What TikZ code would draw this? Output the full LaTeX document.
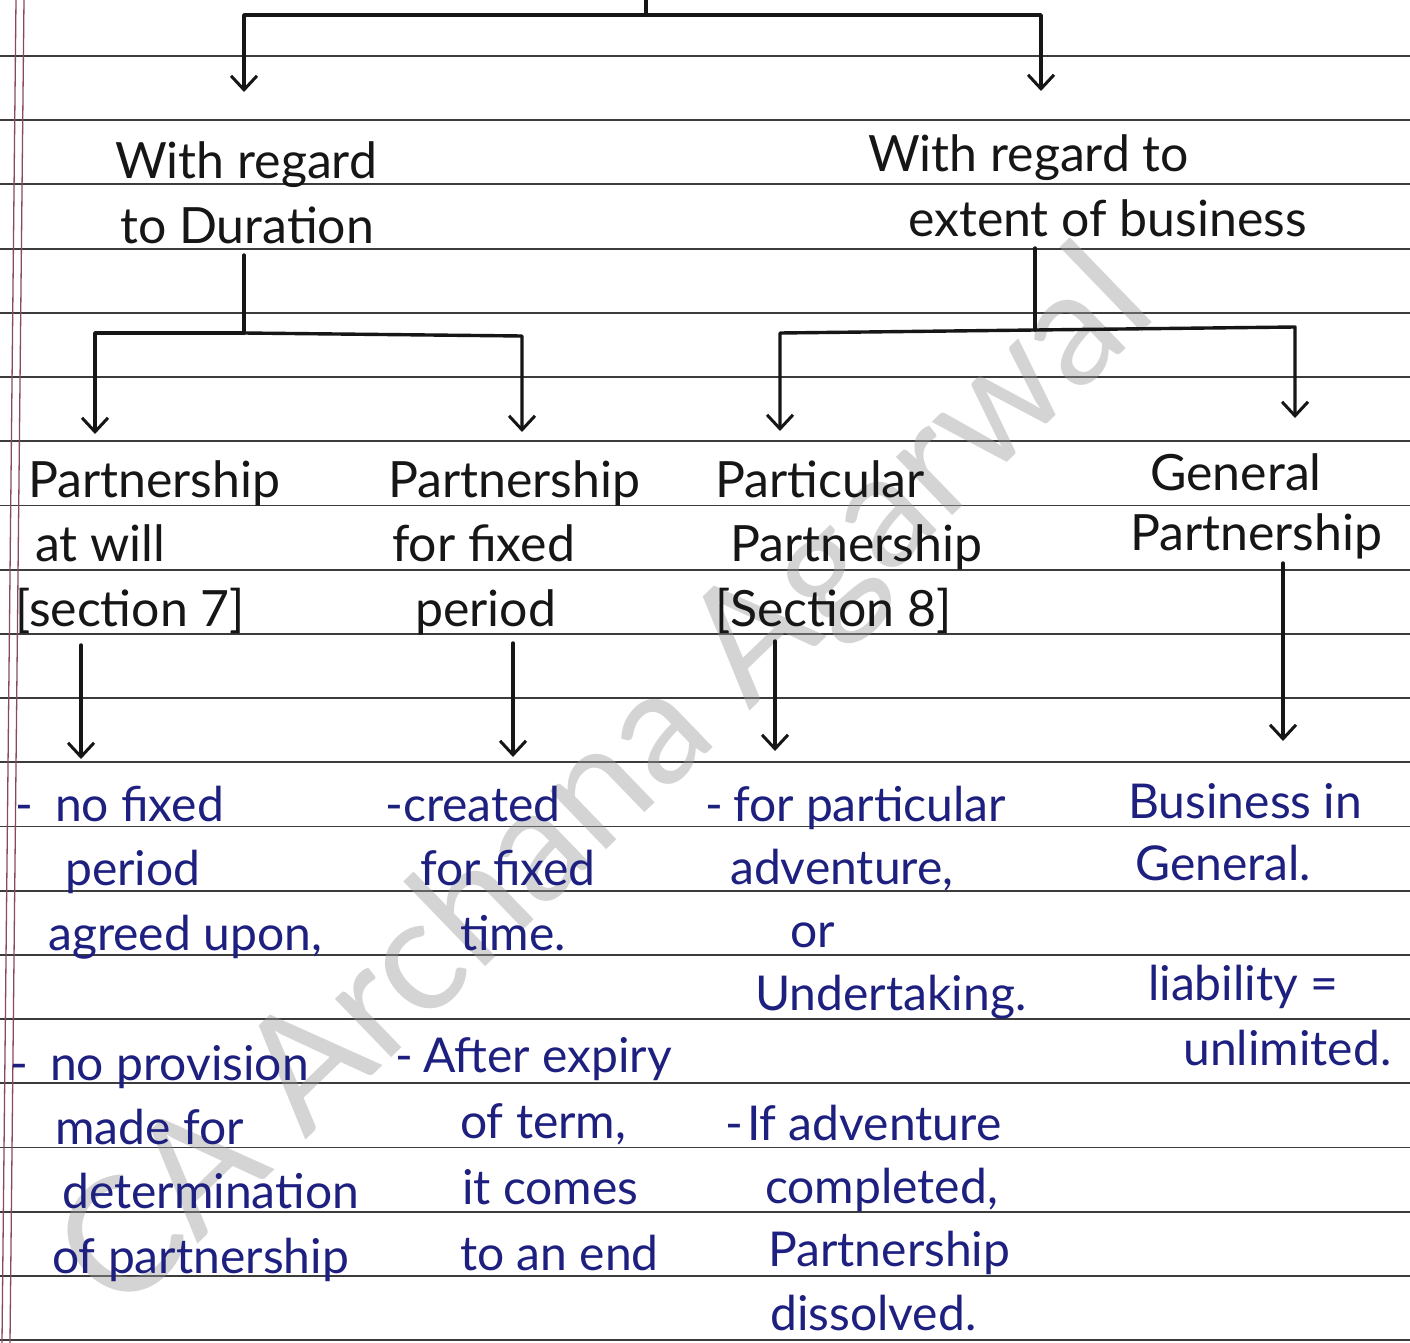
\documentclass[tikz,border=0pt]{standalone}
\usepackage{fontspec}
\setmainfont{Lato}
\usetikzlibrary{arrows.meta}
\definecolor{ink}{HTML}{161616}
\definecolor{blueink}{HTML}{1E2080}
\definecolor{ruleline}{HTML}{3C3C3C}
\definecolor{marginline}{HTML}{8A4A5E}
\definecolor{wmgray}{HTML}{9A9A9A}
\begin{document}
\begin{tikzpicture}[x=1pt,y=-1pt,
  conn/.style={draw=ink,line width=3.4pt,line cap=round,line join=round},
  arr/.style={conn,-{Straight Barb[length=14pt,width=26pt,line width=3pt]}},
  ruled/.style={draw=ruleline,line width=1.8pt},
  margin/.style={draw=marginline,line width=1.3pt},
  blk/.style={anchor=base west,inner sep=0pt,align=left,text=ink,font=\fontsize{50}{64.2}\selectfont},
  blu/.style={anchor=base west,inner sep=0pt,align=left,text=blueink,font=\fontsize{48}{64.2}\selectfont},
  wm/.style={anchor=center,inner sep=0pt,text=wmgray,opacity=0.42,font=\fontsize{160}{160}\selectfont}
]
\useasboundingbox (0,0) rectangle (1410,1343);
\fill[white] (0,0) rectangle (1410,1343);
% ruled paper
\foreach \k in {0,...,20} \draw[ruled] (0,{56+64.2*\k}) -- (1410,{56+64.2*\k});
\draw[margin] (16,0) -- (2,1343);
\draw[margin] (24,0) -- (10,1343);
% watermark
\node[wm,rotate=44] (wmark) at (610,785) {CA Archana Agarwal};

% headings (anchored at the baseline of their last line)
\node[blk] (dur) at (115,243) {With regard\\\hspace*{5pt}to Duration};
\node[blk] (ext) at (868,236) {With regard to\\\hspace*{40pt}extent of business};

% level 3
\node[blk] (pw) at (15,626) {\hspace*{13pt}Partnership\\\hspace*{20pt}at will\\{[}section 7{]}};
\node[blk] (pf) at (388,626) {Partnership\\\hspace*{4pt}for fixed\\\hspace*{27pt}period};
\node[blk] (pp) at (715,626) {Particular\\\hspace*{15pt}Partnership\\{[}Section 8{]}};
\node[blk,font=\fontsize{50}{60}\selectfont] (gp) at (1130,550) {\hspace*{20pt}General\\Partnership};

% level 4 (blue notes)
\node[blu] (b1a) at (15,950) {-\hspace*{22pt}no fixed\\\hspace*{50pt}period\\\hspace*{33pt}agreed upon,};
\node[blu] (b1b) at (10,1273) {-\hspace*{22pt}no provision\\\hspace*{45pt}made for\\\hspace*{52pt}determination\\\hspace*{42pt}of partnership};
\node[blu] (b2a) at (385,950) {-created\\\hspace*{35pt}for fixed\\\hspace*{75pt}time.};
\node[blu,font=\fontsize{48}{66}\selectfont] (b2b) at (395,1270) {-\hspace*{10pt}After expiry\\\hspace*{65pt}of term,\\\hspace*{67pt}it comes\\\hspace*{65pt}to an end};
\node[blu,font=\fontsize{48}{62.7}\selectfont] (b3a) at (705,1010) {-\hspace*{10pt}for particular\\\hspace*{25pt}adventure,\\\hspace*{85pt}or\\\hspace*{50pt}Undertaking.};
\node[blu,font=\fontsize{48}{63.3}\selectfont] (b3b) at (725,1330) {-\hspace*{4pt}If adventure\\\hspace*{40pt}completed,\\\hspace*{43pt}Partnership\\\hspace*{45pt}dissolved.};
\node[blu,font=\fontsize{48}{62}\selectfont] (b4a) at (1128,880) {Business in\\\hspace*{7pt}General.};
\node[blu,font=\fontsize{48}{65}\selectfont] (b4b) at (1148,1065) {liability =\\\hspace*{35pt}unlimited.};

% top bracket
\coordinate (top) at (646,0);
\coordinate (tj) at (646,15);
\coordinate (tl) at (244,15);
\coordinate (tr) at (1041,15);
\coordinate (tdur) at (244,92);
\coordinate (text) at (1041,91);
\draw[conn] (top) -- (tj);
\draw[arr] (tj) -- (tl) -- (tdur);
\draw[arr] (tj) -- (tr) -- (text);

% duration bracket
\coordinate (ds) at (244,255);
\coordinate (dj) at (244,333);
\coordinate (dl) at (95,333);
\coordinate (dr) at (522,336);
\coordinate (tpw) at (95,434);
\coordinate (tpf) at (522,432);
\draw[conn] (ds) -- (dj);
\draw[arr] (dj) -- (dl) -- (tpw);
\draw[arr] (dj) -- (dr) -- (tpf);

% extent bracket
\coordinate (es) at (1035,248);
\coordinate (ej) at (1035,330);
\coordinate (el) at (780,333);
\coordinate (er) at (1295,327);
\coordinate (tpp) at (780,431);
\coordinate (tgp) at (1295,418);
\draw[conn] (es) -- (ej);
\draw[arr] (ej) -- (el) -- (tpp);
\draw[arr] (ej) -- (er) -- (tgp);

% down arrows to notes
\coordinate (s1) at (81,645);
\coordinate (e1) at (81,759);
\coordinate (s2) at (513,643);
\coordinate (e2) at (513,757);
\coordinate (s3) at (775,641);
\coordinate (e3) at (775,751);
\coordinate (s4) at (1283,563);
\coordinate (e4) at (1283,741);
\draw[arr] (s1) -- (e1);
\draw[arr] (s2) -- (e2);
\draw[arr] (s3) -- (e3);
\draw[arr] (s4) -- (e4);
\end{tikzpicture}
\end{document}
